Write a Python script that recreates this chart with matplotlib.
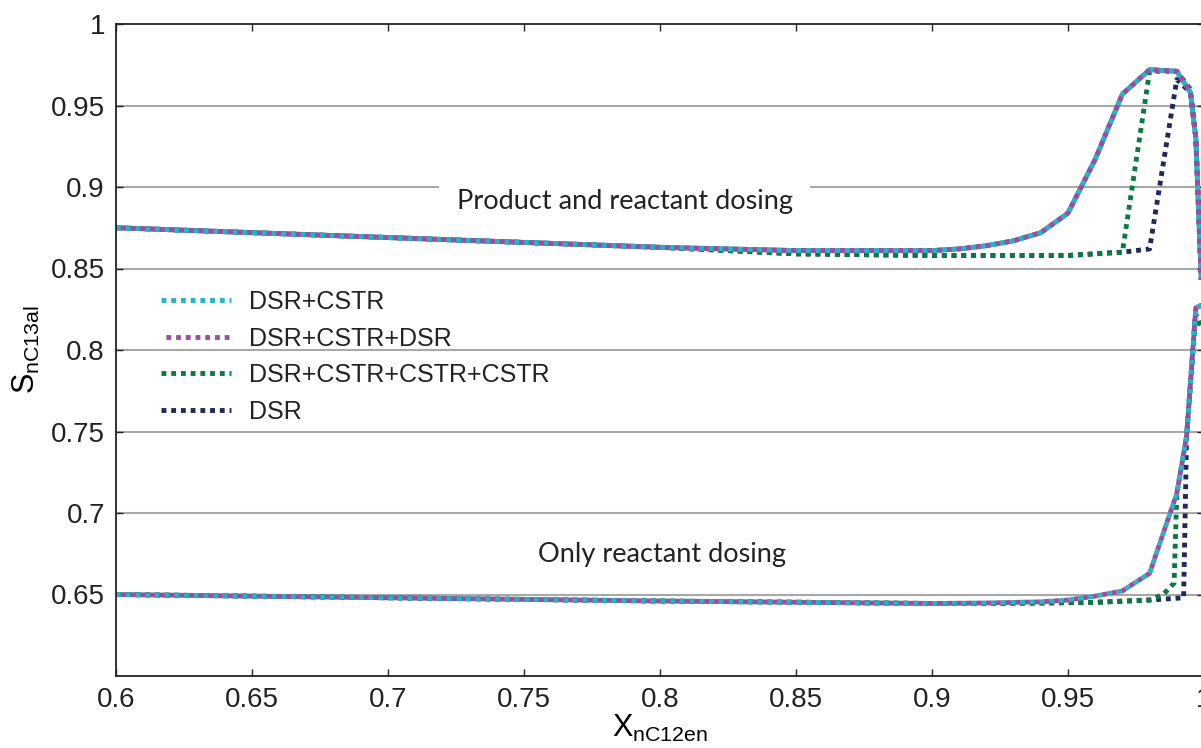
import numpy as np
import matplotlib
matplotlib.use('Agg')
import matplotlib.pyplot as plt

plt.rcParams['font.family'] = ['Liberation Sans', 'DejaVu Sans']
plt.rcParams['mathtext.fontset'] = 'custom'
plt.rcParams['mathtext.rm'] = 'Liberation Sans'
plt.rcParams['mathtext.it'] = 'Liberation Sans'

# upper set: product and reactant dosing
x_up = [0.6, 0.65, 0.7, 0.75, 0.8, 0.85, 0.9, 0.91, 0.92, 0.93, 0.94, 0.95, 0.96, 0.97, 0.98, 0.99, 0.995, 0.997, 0.999]
up_cstr = [0.875, 0.872, 0.869, 0.866, 0.863, 0.861, 0.861, 0.862, 0.864, 0.867, 0.872, 0.884, 0.917, 0.957, 0.972, 0.971, 0.958, 0.93, 0.843]
up_cstr_dsr = up_cstr
up_3cstr = [0.875, 0.872, 0.869, 0.866, 0.863, 0.859, 0.858, 0.858, 0.858, 0.858, 0.858, 0.858, 0.859, 0.86, 0.971, 0.971, 0.96, 0.93, 0.843]
up_dsr_x = [0.6, 0.65, 0.7, 0.75, 0.8, 0.85, 0.9, 0.95, 0.96, 0.97, 0.98, 0.99, 0.995, 0.997, 0.999]
up_dsr = [0.875, 0.872, 0.869, 0.866, 0.863, 0.859, 0.858, 0.858, 0.859, 0.86, 0.862, 0.966, 0.958, 0.93, 0.843]

# lower set: only reactant dosing
x_lo = [0.6, 0.7, 0.8, 0.9, 0.92, 0.94, 0.95, 0.96, 0.97, 0.98, 0.99, 0.9936, 0.997, 1.0]
lo_cstr = [0.65, 0.648, 0.646, 0.6445, 0.6448, 0.6455, 0.6466, 0.649, 0.6522, 0.663, 0.712, 0.747, 0.826, 0.828]
lo_cstr_dsr = lo_cstr
x_lo_3 = [0.6, 0.7, 0.8, 0.9, 0.92, 0.94, 0.96, 0.98, 0.985, 0.989, 0.99, 0.9936, 0.997, 1.0]
lo_3cstr = [0.65, 0.648, 0.646, 0.6445, 0.6445, 0.6448, 0.6452, 0.6466, 0.65, 0.657, 0.712, 0.747, 0.822, 0.81]
x_lo_d = [0.6, 0.7, 0.8, 0.9, 0.92, 0.94, 0.96, 0.98, 0.9925, 0.9936, 0.997, 1.0]
lo_dsr = [0.65, 0.648, 0.646, 0.6445, 0.6445, 0.6448, 0.6452, 0.6466, 0.648, 0.747, 0.826, 0.828]

names = ['DSR+CSTR', 'DSR+CSTR+DSR', 'DSR+CSTR+CSTR+CSTR', 'DSR']
colors = ['#22b4c8', '#9a4ea0', '#0b7a3e', '#1f2a5c']

xticks = [0.6, 0.65, 0.7, 0.75, 0.8, 0.85, 0.9, 0.95, 1.0]
xlabels = ['0.6', '0.65', '0.7', '0.75', '0.8', '0.85', '0.9', '0.95', '1']
yticks = [0.65, 0.7, 0.75, 0.8, 0.85, 0.9, 0.95, 1.0]
ylabels = ['0.65', '0.7', '0.75', '0.8', '0.85', '0.9', '0.95', '1']

fig = plt.figure(figsize=(12.01, 7.48), dpi=100)
ax = fig.add_axes([116/1201, 72/748, 1088/1201, 652/748])

for y in yticks[:-1]:
    ax.axhline(y, color='#a8a8a8', lw=1.5, zorder=0)

lw = 3.5
dot = (0, (1, 1))
dot_off = (1, (1, 1))
ax.plot(x_up, up_cstr, color=colors[0], lw=lw, ls=dot, label=names[0])
ax.plot(x_up, up_cstr_dsr, color=colors[1], lw=lw, ls=dot_off, label=names[1])
ax.plot(x_up, up_3cstr, color=colors[2], lw=lw, ls=dot, label=names[2], zorder=1.5)
ax.plot(up_dsr_x, up_dsr, color=colors[3], lw=lw, ls=dot, label=names[3], zorder=1.4)

ax.plot(x_lo_d, lo_dsr, color=colors[3], lw=lw, ls=dot, zorder=1.4)
ax.plot(x_lo_3, lo_3cstr, color=colors[2], lw=lw, ls=dot, zorder=1.5)
ax.plot(x_lo, lo_cstr, color=colors[0], lw=lw, ls=dot, zorder=2)
ax.plot(x_lo, lo_cstr_dsr, color=colors[1], lw=lw, ls=dot_off, zorder=2)
# upper cyan/magenta again on top of green and navy
ax.plot(x_up, up_cstr, color=colors[0], lw=lw, ls=dot, zorder=2)
ax.plot(x_up, up_cstr_dsr, color=colors[1], lw=lw, ls=dot_off, zorder=2)

ax.set_xlim(0.6, 1.0)
ax.set_ylim(0.6, 1.0)
ax.set_xticks(xticks)
ax.set_xticklabels(xlabels)
ax.set_yticks(yticks)
ax.set_yticklabels(ylabels)
ax.tick_params(direction='in', length=5, width=1, top=True, right=True, labelsize=20, pad=8, colors='#222222')
for s in ax.spines.values():
    s.set_linewidth(1.3)
    s.set_color('#222222')

ax.set_xlabel(r'X$_{\mathrm{nC12en}}$', fontsize=22, labelpad=0)
ax.set_ylabel(r'S$_{\mathrm{nC13al}}$', fontsize=22, labelpad=6)

ax.text(0.787, 0.891, 'Product and reactant dosing', fontsize=19.5, family=['Lato', 'DejaVu Sans'],
        ha='center', va='center', color='#222222',
        bbox=dict(boxstyle='square,pad=0.65', fc='white', ec='none'))
ax.text(0.8007, 0.6745, 'Only reactant dosing', fontsize=19.5, family=['Lato', 'DejaVu Sans'],
        ha='center', va='center', color='#222222',
        bbox=dict(boxstyle='square,pad=0.5', fc='white', ec='none'))

leg = ax.legend(loc='upper left', bbox_to_anchor=(0.041, 0.592), frameon=False, fontsize=18,
                borderpad=0, borderaxespad=0, handlelength=2.8, handletextpad=0.75, labelspacing=0.5)
for t in leg.get_texts():
    t.set_color('#222222')

fig.savefig('out.png', dpi=100)
